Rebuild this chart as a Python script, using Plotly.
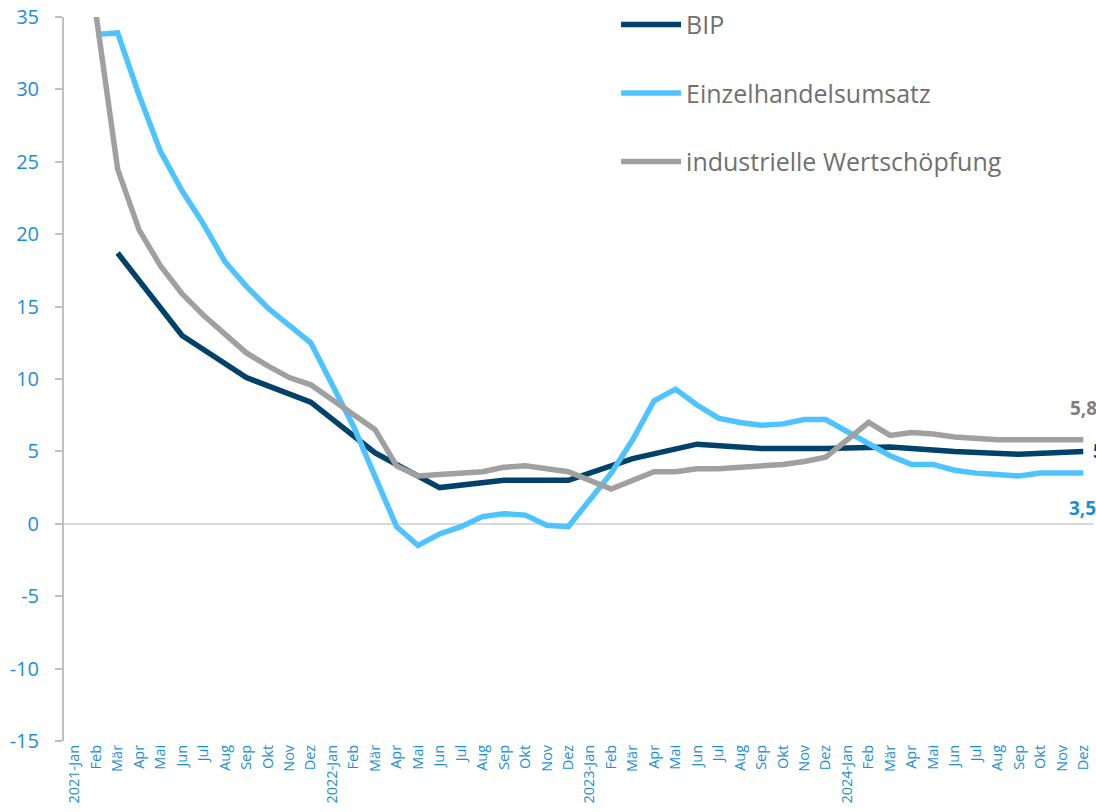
import plotly.graph_objects as go

# ---- data ----
month_labels = (["2021-Jan", "Feb", "Mär", "Apr", "Mai", "Jun", "Jul", "Aug", "Sep", "Okt", "Nov", "Dez"]
                + ["2022-Jan", "Feb", "Mär", "Apr", "Mai", "Jun", "Jul", "Aug", "Sep", "Okt", "Nov", "Dez"]
                + ["2023-Jan", "Feb", "Mär", "Apr", "Mai", "Jun", "Jul", "Aug", "Sep", "Okt", "Nov", "Dez"]
                + ["2024-Jan", "Feb", "Mär", "Apr", "Mai", "Jun", "Jul", "Aug", "Sep", "Okt", "Nov", "Dez"])

bip = [None, None, 18.7, None, None, 13.0, None, None, 10.1, None, None, 8.4,
       None, None, 4.9, None, None, 2.5, None, None, 3.0, None, None, 3.0,
       None, None, 4.5, None, None, 5.5, None, None, 5.2, None, None, 5.2,
       None, None, 5.3, None, None, 5.0, None, None, 4.8, None, None, 5.0]

einzelhandel = [None, 33.8, 33.9, 29.6, 25.7, 23.0, 20.7, 18.1, 16.4, 14.9, 13.7, 12.5,
                None, 6.7, 3.3, -0.2, -1.5, -0.7, -0.2, 0.5, 0.7, 0.6, -0.1, -0.2,
                None, 3.5, 5.8, 8.5, 9.3, 8.2, 7.3, 7.0, 6.8, 6.9, 7.2, 7.2,
                None, 5.5, 4.7, 4.1, 4.1, 3.7, 3.5, 3.4, 3.3, 3.5, 3.5, 3.5]

industrie = [None, 35.1, 24.5, 20.3, 17.8, 15.9, 14.4, 13.1, 11.8, 10.9, 10.1, 9.6,
             None, 7.5, 6.5, 4.0, 3.3, 3.4, 3.5, 3.6, 3.9, 4.0, 3.8, 3.6,
             None, 2.4, 3.0, 3.6, 3.6, 3.8, 3.8, 3.9, 4.0, 4.1, 4.3, 4.6,
             None, 7.0, 6.1, 6.3, 6.2, 6.0, 5.9, 5.8, 5.8, 5.8, 5.8, 5.8]

y_ticks = [-15, -10, -5, 0, 5, 10, 15, 20, 25, 30, 35]
y_tick_labels = ["-15", "-10", "-5", "0", "5", "10", "15", "20", "25", "30", "35"]

# ---- style ----
C_BIP = "#00426A"
C_EH = "#4DC3FF"
C_IND = "#A0A0A0"
C_TICK = "#1A8FD6"
FONT = "Open Sans"

x_idx = list(range(len(month_labels)))

fig = go.Figure()
series = [("BIP", bip, C_BIP), ("Einzelhandelsumsatz", einzelhandel, C_EH),
          ("industrielle Wertschöpfung", industrie, C_IND)]
for name, vals, col in series:
    fig.add_trace(go.Scatter(
        x=x_idx, y=vals, name=name, mode="lines", connectgaps=True,
        line=dict(color=col, width=5.5), legendgroup=name, cliponaxis=True,
        hoverinfo="skip"))

# end labels
def fmt(v):
    return f"{v:.1f}".replace(".", ",")

last = len(month_labels) - 1
fig.add_annotation(x=last, y=industrie[-1], text="<b>" + fmt(industrie[-1]) + "</b>",
                   showarrow=False, xanchor="left", yanchor="middle", xshift=-15, yshift=32,
                   font=dict(family=FONT, size=19, color="#7F7F7F"))
fig.add_annotation(x=last, y=einzelhandel[-1], text="<b>" + fmt(einzelhandel[-1]) + "</b>",
                   showarrow=False, xanchor="left", yanchor="middle", xshift=-16, yshift=-35,
                   font=dict(family=FONT, size=19, color="#1A8FD6"))
fig.add_annotation(x=last, y=bip[-1], text="<b>" + fmt(bip[-1]) + "</b>",
                   showarrow=False, xanchor="left", yanchor="middle", xshift=8, yshift=0,
                   font=dict(family=FONT, size=19, color=C_BIP))

fig.update_layout(
    width=1096, height=812,
    margin=dict(l=64, r=2, t=17, b=71),
    paper_bgcolor="white", plot_bgcolor="white",
    font=dict(family=FONT, color="#6E6E6E"),
    showlegend=True,
    legend=dict(x=0.536, y=1.021, xanchor="left", yanchor="top",
                font=dict(family=FONT, size=25, color="#707070"),
                tracegroupgap=33, itemwidth=60, bgcolor="rgba(0,0,0,0)"),
    xaxis=dict(range=[-0.5, last + 0.5], tickmode="array", tickvals=x_idx,
               ticktext=month_labels, tickangle=-90, showgrid=False, zeroline=False,
               showline=False, ticks="", automargin=False,
               tickfont=dict(family=FONT, size=14.5, color=C_TICK)),
    yaxis=dict(range=[-15, 35], tickmode="array", tickvals=y_ticks, ticktext=y_tick_labels,
               showgrid=False, automargin=False,
               zeroline=True, zerolinecolor="#D9D9D9", zerolinewidth=2,
               showline=True, linecolor="#C0C0C0", linewidth=2,
               ticks="outside", ticklen=7, tickcolor="#C0C0C0", tickwidth=2,
               ticklabelstandoff=12,
               tickfont=dict(family=FONT, size=20, color=C_TICK)),
)

fig.write_html("out.html", config={"displayModeBar": False},
               post_script="document.body.style.margin='0';document.body.style.overflow='hidden';")
